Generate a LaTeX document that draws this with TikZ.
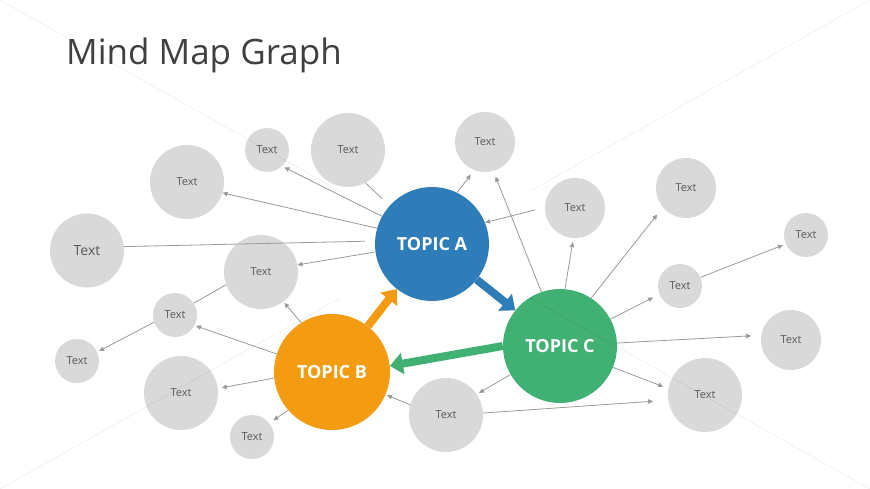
\documentclass[tikz,border=0pt]{standalone}
\usepackage{fontspec}
\setmainfont{Open Sans}
\usetikzlibrary{arrows.meta}
\definecolor{topicA}{HTML}{2E7CB8}
\definecolor{topicB}{HTML}{F39C12}
\definecolor{topicC}{HTML}{40B073}
\definecolor{bubblegray}{HTML}{D9D9D9}
\definecolor{conn}{HTML}{9A9A9A}
\definecolor{txt}{HTML}{595959}
\definecolor{ttl}{HTML}{404040}
\begin{document}
\begin{tikzpicture}[x=1pt,y=-1pt,
  bubble/.style={circle,fill=bubblegray,inner sep=0pt,minimum size=#1,text=txt,font=\fontsize{11}{13}\selectfont},
  topic/.style={circle,fill=#1,inner sep=0pt,minimum size=114pt,text=white,font=\bfseries\fontsize{18}{21}\selectfont},
  link/.style={draw=conn,line width=0.8pt,-{Triangle[length=5pt,width=4.5pt]}},
  plainlink/.style={draw=conn,line width=0.8pt},
  bigarrow/.style={line width=8pt,draw=#1,-{Triangle[length=13pt,width=21pt]}},
  diag/.style={draw=black,opacity=0.06,line width=0.8pt}]
\fill[white] (0,0) rectangle (870,489);
\useasboundingbox (0,0) rectangle (870,489);

% title
\node[anchor=base west,inner sep=0pt,text=ttl,font=\fontsize{35}{42}\selectfont] (title) at (66,65) {Mind Map Graph};

\coordinate (Acen) at (432,244);
\coordinate (Bcen) at (332,372);
\coordinate (Ccen) at (560,346);

% topic circles
\node[topic=topicA] (A) at (Acen) {TOPIC A};
\node[topic=topicB,minimum size=116pt] (B) at (Bcen) {TOPIC B};
\node[topic=topicC] (C) at (Ccen) {TOPIC C};

% thick arrows
\draw[bigarrow=topicA] (A) -- (C);
\draw[bigarrow=topicB] (B) -- (A);
\draw[bigarrow=topicC] (C.180) -- (B.6);

% bubbles
\node[bubble=44pt] (c1) at (267,150) {Text};
\node[bubble=74pt] (c2) at (348,150) {Text};
\node[bubble=74pt] (c3) at (187,182) {Text};
\node[bubble=74pt,font=\fontsize{14}{16}\selectfont] (c4) at (87,250.5) {Text};
\node[bubble=74pt] (c5) at (261,272) {Text};
\node[bubble=60pt] (c6) at (485,142) {Text};
\node[bubble=60pt] (c7) at (575,208) {Text};
\node[bubble=60pt] (c8) at (686,188) {Text};
\node[bubble=44pt] (c9) at (806,235) {Text};
\node[bubble=44pt] (c10) at (680,286) {Text};
\node[bubble=44pt] (c11) at (175,315) {Text};
\node[bubble=44pt] (c12) at (77,361) {Text};
\node[bubble=74pt] (c13) at (181,393) {Text};
\node[bubble=44pt] (c14) at (252,437) {Text};
\node[bubble=74pt] (c15) at (446,415) {Text};
\node[bubble=74pt] (c16) at (705,395) {Text};
\node[bubble=60pt] (c17) at (791,340) {Text};

% connectors from topic A
\draw[link,shorten >=2.5pt] (A.151) -- (c1.-47);
\draw[link] (A.164) -- (c3.-17);
\draw[plainlink,shorten >=10pt] (c4.6) -- (A.177);
\draw[link] (A.-172) -- (c5.11);
\draw[plainlink,shorten >=10pt] (c2.-62) -- (A.138);
\draw[link,shorten >=5.5pt] (A.64) -- (c6.-111);
\draw[link,shorten <=10pt] (c7.179) -- (A.22);

% connectors from topic C
\draw[link,shorten >=6pt] (C.109) -- (c6.-74);
\draw[link,shorten >=4pt] (C.85) -- (c7.-93);
\draw[link,shorten >=9pt] (C.57) -- (c8.-140);
\draw[link,shorten >=3pt] (c10.23) -- (c9.-156);
\draw[link,shorten >=7pt] (C.28) -- (c10.-158);
\draw[link,shorten >=10pt] (C.3) -- (c17.171);
\draw[link,shorten >=5.5pt] (C.-22) -- (c16.170);
\draw[link,shorten >=2.5pt] (C.-150) -- (c15.34);
\draw[link,shorten >=15pt] (c15.3) -- (c16.-172);
\draw[link,shorten >=1.5pt] (c15.164) -- (B.-23);

% connectors from topic B
\draw[link,shorten >=1.5pt] (B.122) -- (c5.-53);
\draw[link,shorten >=1.5pt] (B.162) -- (c11.-28);
\draw[link,shorten >=4pt] (B.-174) -- (c13.7);
\draw[link,shorten >=5pt] (B.-139) -- (c14.39);
\draw[plainlink] (c11.32) -- (c5.-160);
\draw[link,shorten >=2pt] (c11.-161) -- (c12.24);

% faint background diagonals
\coordinate (tl) at (0,0);
\coordinate (tr) at (870,0);
\coordinate (bl) at (0,489);
\coordinate (br) at (870,489);
\draw[diag] (tl) -- (339.3,190.7);
\draw[diag] (tr) -- (530.7,190.7);
\draw[diag] (bl) -- (339.3,298.3);
\draw[diag] (br) -- (530.7,298.3);
\end{tikzpicture}
\end{document}
